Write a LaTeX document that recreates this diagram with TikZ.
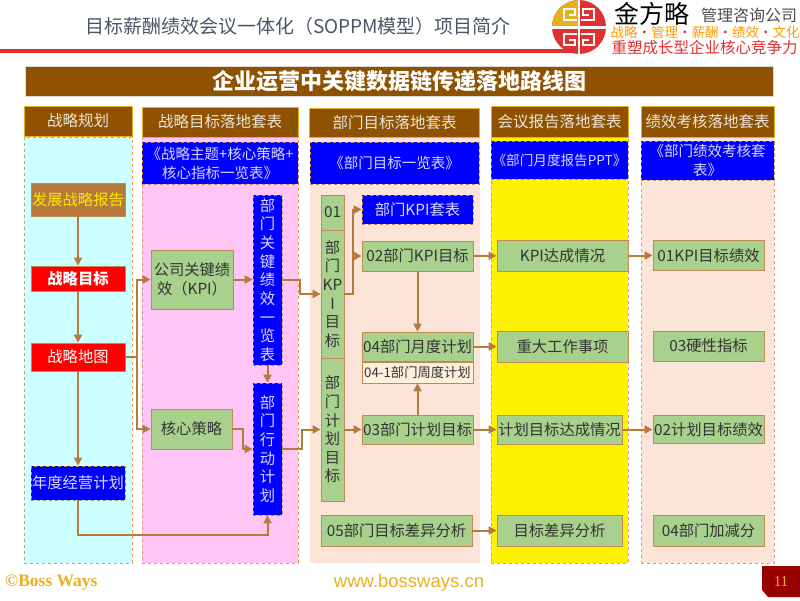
\documentclass[tikz,border=0pt]{standalone}
\usepackage{fontspec}
\setmainfont{Noto Sans CJK SC}
\newfontfamily\serifl{Liberation Serif}
\newfontfamily\sansl{Liberation Sans}
\usetikzlibrary{arrows.meta,positioning}
\definecolor{brownhead}{HTML}{8F5200}
\definecolor{flowcol}{HTML}{B57A3C}
\definecolor{boxgreen}{HTML}{A9D18E}
\definecolor{boxedge}{HTML}{C08A50}
\definecolor{dashcol}{HTML}{E89A60}
\definecolor{titlecol}{HTML}{4A5568}
\definecolor{logored}{HTML}{E03030}
\definecolor{logogold}{HTML}{E8B020}
\definecolor{panelcyan}{HTML}{CCFFFF}
\definecolor{panelpink}{HTML}{FFC5F5}
\definecolor{panelskin}{HTML}{FCE5D8}
\definecolor{creamfill}{HTML}{FDF0DC}
\tikzset{
  headbox/.style={draw=logogold,line width=1pt,fill=brownhead,text=white!85!brownhead,font=\fontsize{15.5}{17}\selectfont,inner sep=0pt},
  panel/.style={draw=dashcol,line width=1pt,dashed,inner sep=0pt},
  bluebox/.style={draw=boxedge,line width=0.8pt,dashed,fill=blue,text=white!85!blue,font=\fontsize{15.3}{18.7}\selectfont,inner sep=0pt,align=center},
  sheetbox/.style={bluebox,font=\fontsize{14.5}{19}\selectfont},
  greenbox/.style={draw=boxedge,line width=0.8pt,fill=boxgreen,text=black!80,font=\fontsize{15.3}{18.6}\selectfont,inner sep=0pt,align=center},
  redbox/.style={draw=boxedge,line width=0.8pt,fill=red,text=white,font=\fontsize{15.3}{18}\selectfont,inner sep=0pt},
  flow/.style={draw=flowcol,line width=2pt,-{Triangle[length=8pt,width=8pt]}},
}
\begin{document}
\begin{tikzpicture}[x=1pt,y=-1pt]
  \useasboundingbox (0,0) rectangle (800,600);

  % Cabecera
  \node[text=titlecol,font=\fontsize{19}{22}\selectfont] (title) at (298,26) {目标薪酬绩效会议一体化（SOPPM模型）项目简介};
  \fill[logored] (0,49) rectangle (575,53);

  % Logo
  \fill[logored] (579,27) circle (27);
  \fill[logogold] (579,27) -- (552,27) arc (180:270:27) -- cycle;
  \fill[white] (551,26) rectangle (607,28.5);
  \fill[white] (577.8,0) rectangle (580.2,54);
  \foreach \sx/\sy in {1/1,-1/1,1/-1,-1/-1}
    \draw[white,line width=2.2pt,shift={(579,27.2)},xscale=\sx,yscale=\sy] (-2,-7) -- (-15,-7) -- (-15,-18) -- (-4,-18) -- (-4,-12.5) -- (-10,-12.5);
  \node[font=\fontsize{25}{28}\selectfont,text=black] (brand) at (652,14) {金方略};
  \node[text=black!70,font=\fontsize{16}{18}\selectfont] (firm) at (749,15) {管理咨询公司};
  \node[text=orange!80!yellow,font=\fontsize{13.5}{15}\selectfont] (motto) at (705,32) {战略{\color{logored}•}管理{\color{logored}•}薪酬{\color{logored}•}绩效{\color{logored}•}文化};
  \node[text=logored,font=\fontsize{15.5}{17}\selectfont] (claim) at (704.5,48) {重塑成长型企业核心竞争力};

  % Banner
  \node[fill=brownhead,draw=black!15,line width=0.6pt,text=white,font=\bfseries\fontsize{22}{24}\selectfont,minimum width=748,minimum height=30,inner sep=0pt] (banner) at (399,81) {企业运营中关键数据链传递落地路线图};

  % Paneles de fondo
  \node[panel,fill=panelcyan,minimum width=108,minimum height=426] (panelA) at (78,350) {};
  \node[panel,fill=panelpink,minimum width=156,minimum height=426] (panelB) at (220,350) {};
  \node[fill=panelskin,minimum width=170,minimum height=426] (panelC) at (395,350) {};
  \node[panel,fill=yellow,minimum width=137,minimum height=426] (panelD) at (559.5,350) {};
  \node[panel,fill=panelskin,minimum width=133,minimum height=426] (panelE) at (707.5,350) {};

  % Titulos de columna
  \node[headbox,minimum width=108,minimum height=30] (headA) at (78,121) {战略规划};
  \node[headbox,minimum width=156,minimum height=30] (headB) at (220,122) {战略目标落地套表};
  \node[headbox,minimum width=170,minimum height=29] (headC) at (394.5,122.5) {部门目标落地套表};
  \node[headbox,minimum width=137,minimum height=31] (headD) at (559.5,121.5) {会议报告落地套表};
  \node[headbox,minimum width=133,minimum height=31] (headE) at (707.5,121.5) {绩效考核落地套表};

  % Cajas azules de cabecera
  \node[sheetbox,minimum width=156,minimum height=42] (sheetB) at (220,163) {《战略主题+核心策略+\\核心指标一览表》};
  \node[sheetbox,minimum width=169,minimum height=42] (sheetC) at (394.5,163) {《部门目标一览表》};
  \node[sheetbox,font=\fontsize{13.6}{16}\selectfont,minimum width=137,minimum height=38] (sheetD) at (559.5,160) {《部门月度报告PPT》};
  \node[sheetbox,minimum width=133,minimum height=39] (sheetE) at (707.5,160.5) {《部门绩效考核套\\表》};

  % Columna 1
  \node[draw=boxedge,fill=flowcol,text=yellow!90!orange,font=\fontsize{15.3}{18}\selectfont,inner sep=0pt,minimum width=94,minimum height=33] (report) at (78,199.5) {发展战略报告};
  \node[redbox,minimum width=94,minimum height=25] (goal) at (78,278.5) {\textbf{战略目标}};
  \node[redbox,minimum width=94,minimum height=28] (map) at (78,357) {战略地图};
  \node[bluebox,minimum width=94,minimum height=34] (annual) at (78,483) {年度经营计划};

  % Columna 2
  \node[greenbox,minimum width=82,minimum height=59] (kpi) at (192,279.5) {公司关键绩\\效（KPI）};
  \node[greenbox,minimum width=81,minimum height=40] (core) at (191.5,429) {核心策略};
  \node[bluebox,minimum width=29,minimum height=170] (list) at (267.5,280) {部\\门\\关\\键\\绩\\效\\一\\览\\表};
  \node[bluebox,minimum width=29,minimum height=132] (action) at (267.5,449) {部\\门\\行\\动\\计\\划};

  % Columna 3
  \node[greenbox,minimum width=23,minimum height=35] (no1) at (332.5,212.5) {01};
  \node[greenbox,minimum width=23,minimum height=128] (deptkpi) at (332.5,294) {部\\门\\KP\\I\\目\\标};
  \node[greenbox,minimum width=23,minimum height=143] (deptplan) at (332.5,429.5) {部\\门\\计\\划\\目\\标};
  \node[bluebox,minimum width=111,minimum height=29] (kpisheet) at (417.5,209.5) {部门KPI套表};
  \node[greenbox,minimum width=111,minimum height=30] (no2) at (417.5,256) {02部门KPI目标};
  \node[greenbox,minimum width=111,minimum height=29] (no4) at (417.5,346.5) {04部门月度计划};
  \node[greenbox,fill=creamfill,font=\fontsize{13.3}{15}\selectfont,minimum width=111,minimum height=21] (no41) at (417.5,372.5) {04-1部门周度计划};
  \node[greenbox,minimum width=111,minimum height=29] (no3) at (417.5,429.5) {03部门计划目标};
  \node[greenbox,minimum width=151,minimum height=31] (no5) at (396.5,530.5) {05部门目标差异分析};

  % Columna 4
  \node[greenbox,minimum width=131,minimum height=31] (rate) at (562.5,255.5) {KPI达成情况};
  \node[greenbox,minimum width=131,minimum height=31] (work) at (562.5,346.5) {重大工作事项};
  \node[greenbox,minimum width=125,minimum height=29] (planrate) at (559.5,429.5) {计划目标达成情况};
  \node[greenbox,minimum width=125,minimum height=31] (gap) at (559.5,530.5) {目标差异分析};

  % Columna 5
  \node[greenbox,minimum width=111,minimum height=30] (perf1) at (708.5,255.5) {01KPI目标绩效};
  \node[greenbox,minimum width=111,minimum height=30] (hard) at (708.5,346) {03硬性指标};
  \node[greenbox,minimum width=111,minimum height=28] (perf2) at (708.5,429.5) {02计划目标绩效};
  \node[greenbox,minimum width=111,minimum height=31] (score) at (708.5,530.5) {04部门加减分};

  % Conectores
  \draw[flow] (report) -- (goal);
  \draw[flow] (goal) -- (map);
  \draw[flow] (map) -- (annual);
  \draw[flow] (map.east) -- ++(12,0) |- (kpi.west);
  \draw[flow] (map.east) -- ++(12,0) |- (core.west);
  \draw[flow] (kpi.east) -- (kpi.east -| list.west);
  \draw[flow] (core.east) -- ++(11,0) |- (action.west);
  \draw[flow] (list) -- (action);
  \draw[flow] (list.east) -- ++(18,0) |- (deptkpi.west);
  \draw[flow] (action.east) -- ++(20,0) |- (deptplan.west);
  \draw[flow] (annual.south) -- ++(0,35) -| (action.south);
  \draw[flow] (deptkpi.east) -- ++(9,0) |- (kpisheet.west);
  \draw[flow] (deptkpi.east) -- ++(9,0) |- (no2.west);
  \draw[flow] (deptplan.east) -- (deptplan.east -| no3.west);
  \draw[flow] (no2) -- (no4);
  \draw[flow] (no3) -- (no41);
  \draw[flow] (no2) -- (rate);
  \draw[flow] (no4) -- (work);
  \draw[flow] (no3) -- (planrate);
  \draw[flow] (no5) -- (gap);
  \draw[flow] (rate) -- (perf1);
  \draw[flow] (planrate) -- (perf2);

  % Pie
  \node[text=logogold,font=\serifl\bfseries\fontsize{17.5}{19}\selectfont,anchor=west,inner sep=0pt] (copy) at (5,583) {©Boss Ways};
  \node[text=logogold,font=\sansl\fontsize{18.5}{20}\selectfont] (web) at (409,583) {www.bossways.cn};
  \fill[red!60!black] (762,566) -- (800,566) -- (800,597) -- (768,597) -- (762,590) -- cycle;
  \node[text=logogold,font=\serifl\fontsize{15}{17}\selectfont] (page) at (781,582) {11};
\end{tikzpicture}
\end{document}
